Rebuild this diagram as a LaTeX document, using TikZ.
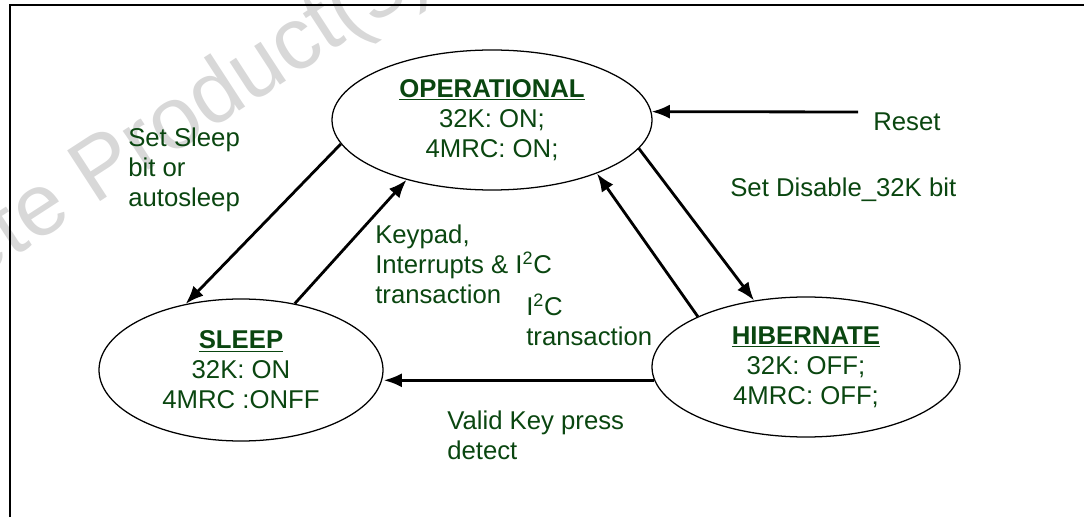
\documentclass[tikz,border=0pt]{standalone}
\usepackage{fontspec}
\setmainfont{Liberation Sans}
\usetikzlibrary{shapes.geometric,arrows.meta}
\definecolor{stgreen}{RGB}{10,70,16}
\definecolor{wmgray}{RGB}{216,216,216}
\newcommand{\txtsize}{\fontsize{18.3}{21.3}\selectfont}
\newcommand{\ttl}[1]{\underline{\textbf{#1}}}
\begin{document}
\begin{tikzpicture}[>={Latex[length=13pt,width=10pt]},
  state/.style={draw, ellipse, line width=0.9pt, inner sep=0pt, align=center, text=stgreen, font=\txtsize},
  lbl/.style={anchor=west, inner sep=0pt, align=left, text=stgreen, font=\txtsize},
  trans/.style={->, line width=2pt}]
\useasboundingbox (0,0) rectangle (27.1,12.925);
% watermark
\begin{scope}
\clip (0,0) rectangle (27.1,12.925);
\node[anchor=base west, inner sep=0pt, rotate=33, text=wmgray, font=\fontsize{62.5}{62.5}\selectfont] (wm) at (-5.525,2.675) {Obsolete Product(s)};
\end{scope}
\draw[line width=1.6pt] (0.25,0) -- (0.25,12.8) -- (27.1,12.8);

% states
\node[state, minimum width=8cm, minimum height=3.5cm] (op) at (12.3,9.925) {\ttl{OPERATIONAL}\\32K: ON;\\4MRC: ON;};
\node[state, minimum width=7.1cm, minimum height=3.55cm] (sleep) at (6.025,3.675) {\ttl{SLEEP}\\32K: ON\\4MRC :ONFF};
\node[state, minimum width=7.7cm, minimum height=3.5cm] (hib) at (20.15,3.75) {\ttl{HIBERNATE}\\32K: OFF;\\4MRC: OFF;};

% labels
\node[lbl] (sleeplbl) at (3.2,8.675) {Set Sleep\\bit or\\autosleep};
\node[lbl] (keylbl) at (9.375,6.325) {Keypad,\\Interrupts \& I\textsuperscript{2}C\\transaction};
\node[lbl] (i2clbl) at (13.15,4.925) {I\textsuperscript{2}C\\transaction};
\node[lbl] (dislbl) at (18.25,8.175) {Set Disable\_32K bit};
\node[lbl] (validlbl) at (11.175,2.05) {Valid Key press\\detect};
\node[lbl] (reset) at (21.825,9.875) {Reset};
\coordinate (rst) at (21.45,10.125);

% transitions
\draw[trans] (rst) -- (op.3);
\draw[trans] (op.189) -- (sleep.130);
\draw[trans] (sleep.51) -- (op.215.5);
\draw[trans] (op.349.6) -- (hib.128.9);
\draw[trans] (hib.155.2) -- (op.333);
\draw[trans] (hib.185) -- (hib.185 -| sleep.east);
\end{tikzpicture}
\end{document}
